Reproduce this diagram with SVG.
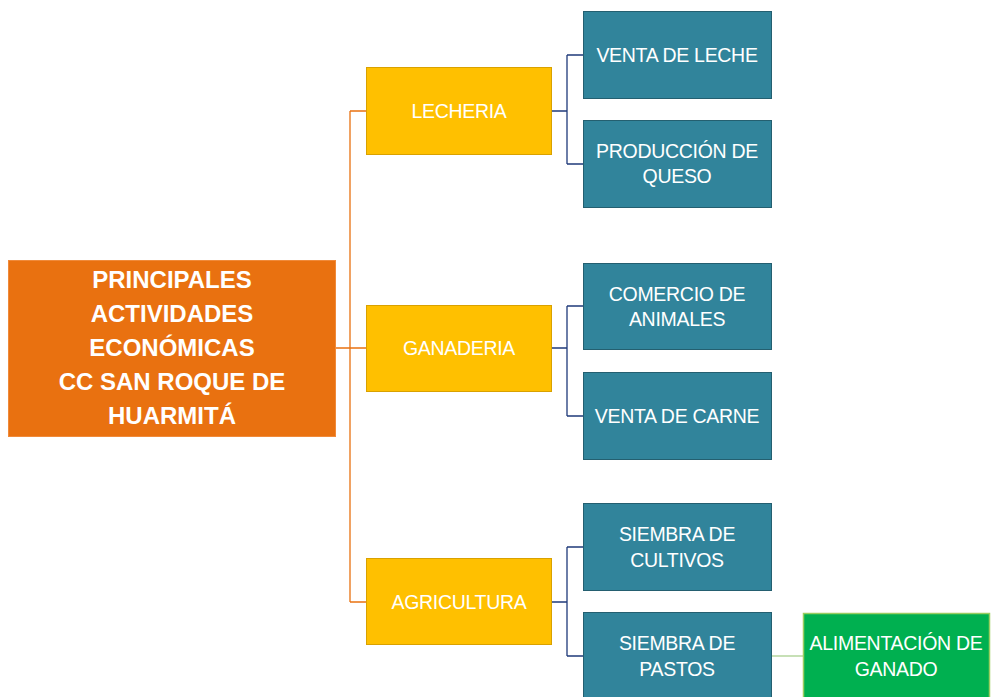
<svg xmlns="http://www.w3.org/2000/svg" width="993" height="697" viewBox="0 0 993 697">
<style>
.root{fill:#E97110;stroke:#F08A3A;stroke-width:1}
.y{fill:#FFC000;stroke:#D9A100;stroke-width:1}
.t{fill:#31849B;stroke:#245F70;stroke-width:1}
.g{fill:#00B050;stroke:#9ACD60;stroke-width:1.5}
text{font-family:"Liberation Sans",Arial,sans-serif;fill:#fff;text-anchor:middle}
.lt{font-size:19.5px;letter-spacing:-0.3px}
.rt{font-size:24px;font-weight:bold}
.co{fill:none;stroke:#E97110;stroke-width:1.3}
.cn{fill:none;stroke:#1F3A7A;stroke-width:1.3}
.cg{fill:none;stroke:#A9D08E;stroke-width:1.3}
</style>
<rect width="993" height="697" fill="#fff"/>
<g id="connectors">
<path class="co" d="M336 348H350M350 111V602M350 111H366M350 348H366M350 602H366"/>
<path class="cn" d="M552 111H567M567 55V164M567 55H583M567 164H583"/>
<path class="cn" d="M552 348H567M567 306V416M567 306H583M567 416H583"/>
<path class="cn" d="M552 602H567M567 547V656M567 547H583M567 656H583"/>
<path class="cg" d="M772 656H803"/>
</g>
<g id="root">
<rect class="root" x="8.5" y="260.5" width="327" height="176"/>
<text class="rt" x="172" y="288">PRINCIPALES</text>
<text class="rt" x="172" y="322">ACTIVIDADES</text>
<text class="rt" x="172" y="356">ECONÓMICAS</text>
<text class="rt" x="172" y="390">CC SAN ROQUE DE</text>
<text class="rt" x="172" y="424">HUARMITÁ</text>
</g>
<g id="lecheria">
<rect class="y" x="366.5" y="67.5" width="185" height="87"/>
<text class="lt" x="459" y="118">LECHERIA</text>
</g>
<g id="ganaderia">
<rect class="y" x="366.5" y="305.5" width="185" height="86"/>
<text class="lt" x="459" y="355">GANADERIA</text>
</g>
<g id="agricultura">
<rect class="y" x="366.5" y="558.5" width="185" height="86"/>
<text class="lt" x="459" y="609">AGRICULTURA</text>
</g>
<g id="venta-leche">
<rect class="t" x="583.5" y="11.5" width="188" height="87"/>
<text class="lt" x="677" y="62">VENTA DE LECHE</text>
</g>
<g id="produccion-queso">
<rect class="t" x="583.5" y="120.5" width="188" height="87"/>
<text class="lt" x="677" y="158">PRODUCCIÓN DE</text>
<text class="lt" x="677" y="183">QUESO</text>
</g>
<g id="comercio-animales">
<rect class="t" x="583.5" y="263.5" width="188" height="86"/>
<text class="lt" x="677" y="301">COMERCIO DE</text>
<text class="lt" x="677" y="326">ANIMALES</text>
</g>
<g id="venta-carne">
<rect class="t" x="583.5" y="372.5" width="188" height="87"/>
<text class="lt" x="677" y="423">VENTA DE CARNE</text>
</g>
<g id="siembra-cultivos">
<rect class="t" x="583.5" y="503.5" width="188" height="87"/>
<text class="lt" x="677" y="541">SIEMBRA DE</text>
<text class="lt" x="677" y="567">CULTIVOS</text>
</g>
<g id="siembra-pastos">
<rect class="t" x="583.5" y="612.5" width="188" height="90"/>
<text class="lt" x="677" y="650">SIEMBRA DE</text>
<text class="lt" x="677" y="676">PASTOS</text>
</g>
<g id="alimentacion-ganado">
<rect class="g" x="803.5" y="613.5" width="186" height="90"/>
<text class="lt" x="896" y="650">ALIMENTACIÓN DE</text>
<text class="lt" x="896" y="676">GANADO</text>
</g>
</svg>
